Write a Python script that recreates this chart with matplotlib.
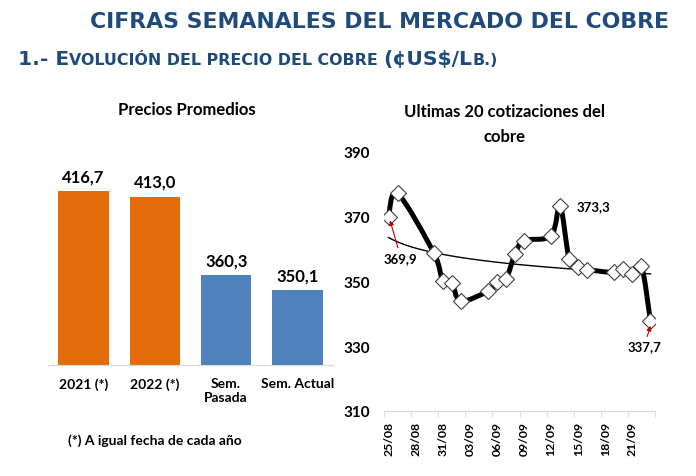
import numpy as np
import matplotlib.pyplot as plt
from matplotlib.ticker import FixedLocator
from matplotlib.path import Path
from matplotlib.patches import PathPatch

# --- datos ---
bar_labels = ['2021 (*)', '2022 (*)', 'Sem.\nPasada', 'Sem. Actual']
bar_values = [416.7, 413.0, 360.3, 350.1]
bar_colors = ['#E46C0A', '#E46C0A', '#4F81BD', '#4F81BD']

# dias desde el 25/08
dias = [0, 1, 5, 6, 7, 8, 11, 12, 13, 14, 15, 18, 19, 20, 21, 22, 25, 26, 27, 28, 29]
precios = [369.9, 377.2, 358.9, 350.2, 349.6, 344.0, 347.0, 349.7, 350.7, 358.5,
           362.6, 364.1, 373.3, 356.9, 354.6, 353.7, 352.8, 354.0, 352.2, 354.9, 337.7]
fecha_ticks = [0, 3, 6, 9, 12, 15, 18, 21, 24, 27]
fecha_labels = ['25/08', '28/08', '31/08', '03/09', '06/09', '09/09',
                '12/09', '15/09', '18/09', '21/09']
# tendencia logaritmica: a + b*ln((d+3)/3)
tend_a, tend_b = 363.6, -4.75

azul = '#1F4A7C'
cal = 'Lato'


def curva_suave(ax, xs, ys, **kw):
    # linea suavizada tipo excel (catmull-rom en pixeles)
    p = ax.transData.transform(np.column_stack([xs, ys]))
    verts = [p[0]]
    codes = [Path.MOVETO]
    for i in range(len(p) - 1):
        p0 = p[i - 1] if i > 0 else p[i]
        p3 = p[i + 2] if i + 2 < len(p) else p[i + 1]
        verts += [p[i] + (p[i + 1] - p0) / 6, p[i + 1] - (p3 - p[i]) / 6, p[i + 1]]
        codes += [Path.CURVE4] * 3
    path = Path(ax.transData.inverted().transform(np.array(verts)), codes)
    ax.add_patch(PathPatch(path, fill=False, **kw))


fig = plt.figure(figsize=(6.96, 4.77), dpi=100)
W, H = 696, 477

fig.text(379 / W, 1 - 22 / H, 'CIFRAS SEMANALES DEL MERCADO DEL COBRE', ha='center', va='center',
         fontsize=15.8, fontweight='bold', color=azul, family='DejaVu Sans')

# subtitulo en versalitas
partes = [('1.- E', 14.6), ('VOLUCIÓN DEL PRECIO DEL COBRE ', 11.4), ('(¢US$/L', 14.6), ('B.)', 11.4)]
r = fig.canvas.get_renderer()
x = 18
for txt, fs in partes:
    t = fig.text(x / W, 1 - 65 / H, txt, ha='left', va='baseline', fontsize=fs,
                 fontweight='bold', color=azul, family='DejaVu Sans')
    x += t.get_window_extent(r).width

# --- barras ---
ax1 = fig.add_axes([48 / W, 1 - 366 / H, 285 / W, 223.5 / H])
xb = np.arange(len(bar_values))
ax1.bar(xb, bar_values, width=0.71, color=bar_colors)
ax1.set_ylim(300, 450)
ax1.set_xlim(-0.5, 3.5)
for i, v in enumerate(bar_values):
    ax1.annotate(f'{v:.1f}'.replace('.', ','), (i, v), xytext=(0, 5), textcoords='offset points',
                 ha='center', va='bottom', fontsize=12, fontweight='bold', family=cal)
ax1.set_xticks(xb)
ax1.set_xticklabels(bar_labels, fontsize=10, fontweight='bold', family=cal, va='top')
ax1.tick_params(axis='x', length=0, pad=9)
ax1.set_yticks([])
for s in ['top', 'right', 'left']:
    ax1.spines[s].set_visible(False)
ax1.spines['bottom'].set_color('#D9D9D9')
fig.text(187 / W, 1 - 110 / H, 'Precios Promedios', ha='center', va='center',
         fontsize=12, fontweight='bold', family=cal)
fig.text(155 / W, 1 - 441 / H, '(*) A igual fecha de cada año', ha='center', va='center',
         fontsize=10, fontweight='bold', family=cal)

# --- cotizaciones ---
ax2 = fig.add_axes([384 / W, 1 - 412 / H, 271 / W, 259 / H])
ax2.set_xlim(-0.5, 29.5)
ax2.set_ylim(310, 390)
dd = np.linspace(dias[0], dias[-1], 120)
ax2.plot(dd, tend_a + tend_b * np.log((dd + 3) / 3), color='black', lw=1)
curva_suave(ax2, dias, precios, color='black', lw=3.6, capstyle='round', joinstyle='round')
ax2.plot(dias, precios, ls='none', marker='D', ms=8, mfc='white', mec='#404040', mew=0.8)
ax2.set_yticks([310, 330, 350, 370, 390])
ax2.set_yticklabels(['310', '330', '350', '370', '390'], fontsize=11, fontweight='bold', family=cal)
ax2.tick_params(axis='y', length=0, pad=10)
ax2.set_xticks(fecha_ticks)
ax2.set_xticklabels(fecha_labels, rotation=90, fontsize=8.8, fontweight='bold', family=cal)
ax2.tick_params(axis='x', which='major', length=0, pad=7)
ax2.xaxis.set_minor_locator(FixedLocator([t - 0.5 for t in fecha_ticks] + [29.5]))
ax2.tick_params(axis='x', which='minor', length=4, color='#D9D9D9')
for s in ['top', 'right', 'left']:
    ax2.spines[s].set_visible(False)
ax2.spines['bottom'].set_color('#D9D9D9')

roj = '#C00000'
flecha = dict(arrowstyle='-|>', color=roj, lw=0.8, mutation_scale=7, shrinkA=1, shrinkB=0)
ax2.annotate('369,9', xy=(0.17, 368.9), xytext=(1.36, 357.3),
             ha='center', va='center', fontsize=9.5, fontweight='bold', family=cal,
             arrowprops=flecha)
ax2.annotate('373,3', xy=(dias[12], precios[12]), xytext=(12, 0), textcoords='offset points',
             ha='left', va='center', fontsize=9.5, fontweight='bold', family=cal)
ax2.annotate('337,7', xy=(29, 336.3), xytext=(28.3, 329.9),
             ha='center', va='center', fontsize=9.5, fontweight='bold', family=cal,
             arrowprops=flecha)
fig.text(505 / W, 1 - 112 / H, 'Ultimas 20 cotizaciones del', ha='center', va='center',
         fontsize=12, fontweight='bold', family=cal)
fig.text(505 / W, 1 - 137 / H, 'cobre', ha='center', va='center',
         fontsize=12, fontweight='bold', family=cal)

fig.savefig('out.png', dpi=100)
